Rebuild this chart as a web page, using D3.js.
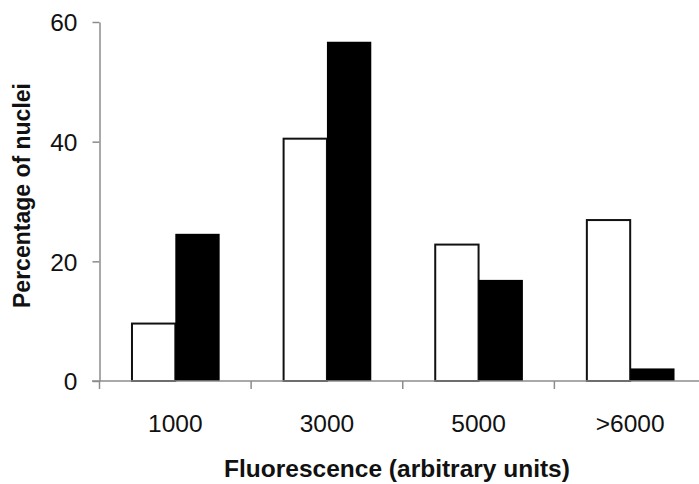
<!DOCTYPE html>
<html>
<head>
<meta charset="utf-8">
<script src="https://cdn.jsdelivr.net/npm/d3@7"></script>
<style>
  body { margin: 0; background: #fff; }
  text { font-family: "Liberation Sans", Arial, sans-serif; fill: #111; }
</style>
</head>
<body>
<svg id="chart" width="699" height="484"></svg>
<script>
// donnees
var categories = ["1000", "3000", "5000", ">6000"];
var series = ["open", "filled"];
var openValues = [9.6, 40.5, 22.8, 26.9];
var filledValues = [24.6, 56.7, 16.9, 2.1];
var yTicks = [0, 20, 40, 60];

var svg = d3.select("#chart");
var axisColor = "#8c8c8c";

var x0 = d3.scaleBand().domain(categories).range([99.5, 706]).padding(0);
var x1 = d3.scaleBand().domain(series).range([0, x0.bandwidth()]).paddingInner(0).paddingOuter(0.71);
var y = d3.scaleLinear().domain([0, 60]).range([381, 22]);

var rows = categories.map(function(c, i) {
    return {cat: c, open: openValues[i], filled: filledValues[i]};
});

// barres
var groups = svg.selectAll("g.grp").data(rows).enter().append("g")
    .attr("class", "grp")
    .attr("transform", function(d) { return "translate(" + x0(d.cat) + ",0)"; });

groups.selectAll("rect").data(function(d) {
    return series.map(function(s) { return {key: s, value: d[s]}; });
}).enter().append("rect")
    .attr("x", function(d) { return x1(d.key) + (d.key == "open" ? 1 : 0); })
    .attr("y", function(d) { return y(d.value); })
    .attr("width", function(d) { return x1.bandwidth() - (d.key == "open" ? 1 : 0); })
    .attr("height", function(d) { return y(0) - y(d.value); })
    .style("fill", function(d) { return d.key == "open" ? "#fff" : "#000"; })
    .style("stroke", "#111")
    .style("stroke-width", function(d) { return d.key == "open" ? 2 : 0; });

// axe y
var yAxis = svg.append("g")
    .attr("transform", "translate(99.5,0)")
    .call(d3.axisLeft(y).tickValues(yTicks).tickSize(7).tickSizeOuter(0).tickPadding(15));
yAxis.selectAll("path, line").attr("stroke", axisColor).attr("stroke-width", 1.5);
yAxis.selectAll("text").style("font-size", "24.5px").style("fill", "#111").attr("dy", "0.36em");

// axe x
svg.append("line")
    .attr("x1", 92).attr("x2", 699)
    .attr("y1", y(0)).attr("y2", y(0))
    .attr("stroke", axisColor).attr("stroke-width", 1.5);

svg.selectAll("line.xtick").data(categories).enter().append("line")
    .attr("class", "xtick")
    .attr("x1", function(d) { return x0(d); })
    .attr("x2", function(d) { return x0(d); })
    .attr("y1", y(0)).attr("y2", y(0) + 8)
    .attr("stroke", axisColor).attr("stroke-width", 1.5);

svg.selectAll("text.xlab").data(categories).enter().append("text")
    .attr("class", "xlab")
    .attr("x", function(d) { return x0(d) + x0.bandwidth() / 2; })
    .attr("y", 431.5)
    .attr("text-anchor", "middle")
    .style("font-size", "24.5px")
    .text(function(d) { return d; });

// titres
svg.append("text")
    .attr("x", 397).attr("y", 476.5)
    .attr("text-anchor", "middle")
    .style("font-size", "24.5px").style("font-weight", "bold")
    .text("Fluorescence (arbitrary units)");

svg.append("text")
    .attr("transform", "translate(30,195.5) rotate(-90)")
    .attr("text-anchor", "middle")
    .style("font-size", "23px").style("font-weight", "bold")
    .text("Percentage of nuclei");
</script>
</body>
</html>
